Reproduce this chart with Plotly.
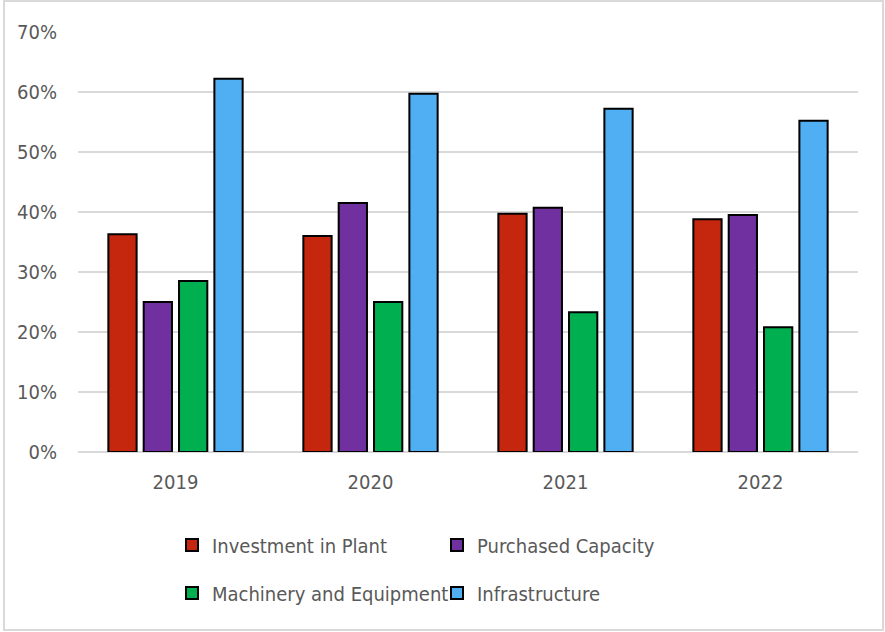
import plotly.graph_objects as go

# Share of spending by category, per year
years = ["2019", "2020", "2021", "2022"]
investment_in_plant = [0.363, 0.360, 0.397, 0.388]
purchased_capacity = [0.250, 0.415, 0.407, 0.395]
machinery_equipment = [0.285, 0.250, 0.233, 0.208]
infrastructure = [0.622, 0.597, 0.572, 0.552]

y_ticks = [0.0, 0.1, 0.2, 0.3, 0.4, 0.5, 0.6, 0.7]
y_tick_labels = ["0%", "10%", "20%", "30%", "40%", "50%", "60%", "70%"]

FONT = "DejaVu Sans Condensed, sans-serif"
TEXT = "#595959"
GRID = "#D9D9D9"

W, H = 885, 632
L, R, T, B = 78, 27, 32, 180

series = [
    ("Investment in Plant", investment_in_plant, "#C4260E", "legend"),
    ("Purchased Capacity", purchased_capacity, "#7030A0", "legend"),
    ("Machinery and Equipment", machinery_equipment, "#00B050", "legend2"),
    ("Infrastructure", infrastructure, "#50AEF3", "legend2"),
]

fig = go.Figure()
for name, vals, color, leg in series:
    fig.add_trace(go.Bar(
        x=years, y=vals, name=name, legend=leg,
        marker=dict(color=color, line=dict(color="#000000", width=2)),
        hoverinfo="skip",
    ))

# Chart border (in paper coordinates relative to the plot area)
pw, ph = W - L - R, H - T - B
def px_x(v):
    return (v - L) / pw
def px_y(v):
    return (H - B - v) / ph

fig.add_shape(type="rect", xref="paper", yref="paper",
              x0=px_x(4), x1=px_x(883), y0=px_y(630), y1=px_y(1),
              line=dict(color=GRID, width=2), fillcolor="rgba(0,0,0,0)",
              layer="below")

legend_common = dict(
    orientation="h", xanchor="left", yanchor="middle",
    font=dict(family=FONT, size=20, color=TEXT),
    entrywidth=220, entrywidthmode="pixels",
    itemclick=False, itemdoubleclick=False,
    bgcolor="rgba(0,0,0,0)",
)

fig.update_layout(
    width=W, height=H,
    margin=dict(l=L, r=R, t=T, b=B, pad=0),
    paper_bgcolor="white", plot_bgcolor="white",
    barmode="group", bargap=0.275, bargroupgap=0.2,
    font=dict(family=FONT, size=20, color=TEXT),
    showlegend=True,
    legend=dict(x=px_x(172), y=px_y(545), **legend_common),
    legend2=dict(x=px_x(172), y=px_y(593), **legend_common),
    xaxis=dict(
        showgrid=False, showline=False, ticks="",
        tickfont=dict(family=FONT, size=20, color=TEXT),
        ticklabelstandoff=16, fixedrange=True,
    ),
    yaxis=dict(
        range=[0, 0.7], tickvals=y_ticks, ticktext=y_tick_labels,
        showgrid=True, gridcolor=GRID, gridwidth=2,
        zeroline=True, zerolinecolor=GRID, zerolinewidth=2,
        showline=False, ticks="",
        tickfont=dict(family=FONT, size=20, color=TEXT),
        ticklabelstandoff=20, fixedrange=True,
    ),
)

fig.write_html("out.html")
